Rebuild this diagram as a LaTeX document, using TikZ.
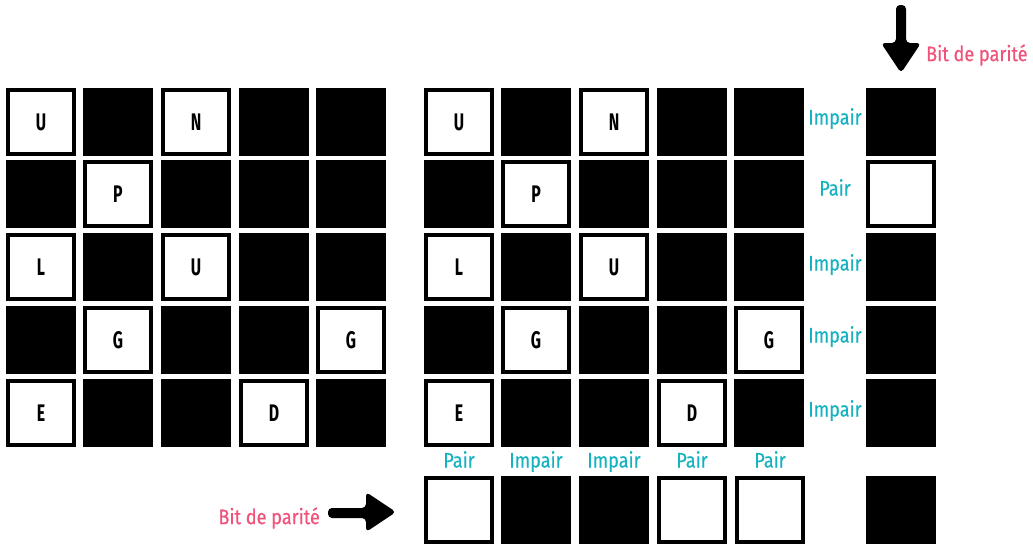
\documentclass[tikz,border=0pt]{standalone}
\usepackage{fontspec}
\setmainfont{Fira Sans}
\newfontfamily\cellfont[FakeStretch=0.66]{Fira Sans}
\newfontfamily\labfont[FakeStretch=0.86,FakeBold=0.4]{Fira Sans}
\definecolor{tealc}{RGB}{22,178,192}
\definecolor{pinkc}{RGB}{240,82,122}
\tikzset{
  blk/.style={fill=black, minimum width=70pt, minimum height=68pt, inner sep=0pt, outer sep=0pt},
  wht/.style={fill=white, draw=black, line width=4pt, minimum width=66pt, minimum height=64pt, inner sep=0pt, outer sep=0pt, font=\cellfont\bfseries\fontsize{24}{24}\selectfont},
  lab/.style={text=tealc, font=\labfont\fontsize{21}{21}\selectfont, inner sep=0pt, text height=15pt, text depth=4pt},
  bitlab/.style={text=pinkc, font=\labfont\fontsize{21}{21}\selectfont, inner sep=0pt},
}
\begin{document}
\begin{tikzpicture}[x=1pt,y=-1pt]
\useasboundingbox (0,0) rectangle (1033,544);
\foreach \x/\cx in {1/41,2/118,3/196,4/274,5/351}{
  \foreach \y/\cy in {1/122,2/194,3/267,4/340,5/413}{
    \node[blk] (L\y\x) at (\cx,\cy) {};
    \node[blk] (R\y\x) at (\cx+418,\cy) {};
  }
}
\foreach \y/\x/\cx/\cy/\t in {1/1/41/122/U,1/3/196/122/N,2/2/118/194/P,3/1/41/267/L,3/3/196/267/U,4/2/118/340/G,4/5/351/340/G,5/1/41/413/E,5/4/274/413/D}{
  \node[wht] (LW\y\x) at (\cx,\cy) {\t};
  \node[wht] (RW\y\x) at (\cx+418,\cy) {\t};
}
% parity column
\node[blk] (P1) at (901,122) {};
\node[wht] (P2) at (901,194) {};
\node[blk] (P3) at (901,267) {};
\node[blk] (P4) at (901,340) {};
\node[blk] (P5) at (901,413) {};
% parity row
\node[wht] (Q1) at (459,510) {};
\node[blk] (Q2) at (536,510) {};
\node[blk] (Q3) at (614,510) {};
\node[wht] (Q4) at (692,510) {};
\node[wht] (Q5) at (770,510) {};
\node[blk] (Q6) at (901,510) {};
% row labels
\node[lab] (r1) at (835,119) {Impair};
\node[lab] (r2) at (835,190) {Pair};
\node[lab] (r3) at (835,265) {Impair};
\node[lab] (r4) at (835,337) {Impair};
\node[lab] (r5) at (835,411) {Impair};
% column labels
\node[lab] (c1) at (459,462) {Pair};
\node[lab] (c2) at (536,462) {Impair};
\node[lab] (c3) at (614,462) {Impair};
\node[lab] (c4) at (692,462) {Pair};
\node[lab] (c5) at (770,462) {Pair};
% bit labels
\node[bitlab, anchor=west] (b1) at (926,55) {Bit de parité};
\node[bitlab, anchor=east] (b2) at (320,518) {Bit de parité};
% arrows
\fill[rounded corners=4pt] (896,5) -- (906,5) -- (906,43) -- (921,43) -- (901,73) -- (881,43) -- (896,43) -- cycle;
\fill[rounded corners=4pt] (328,508) -- (366,508) -- (366,492) -- (396,512) -- (366,532) -- (366,518) -- (328,518) -- cycle;
\end{tikzpicture}
\end{document}
